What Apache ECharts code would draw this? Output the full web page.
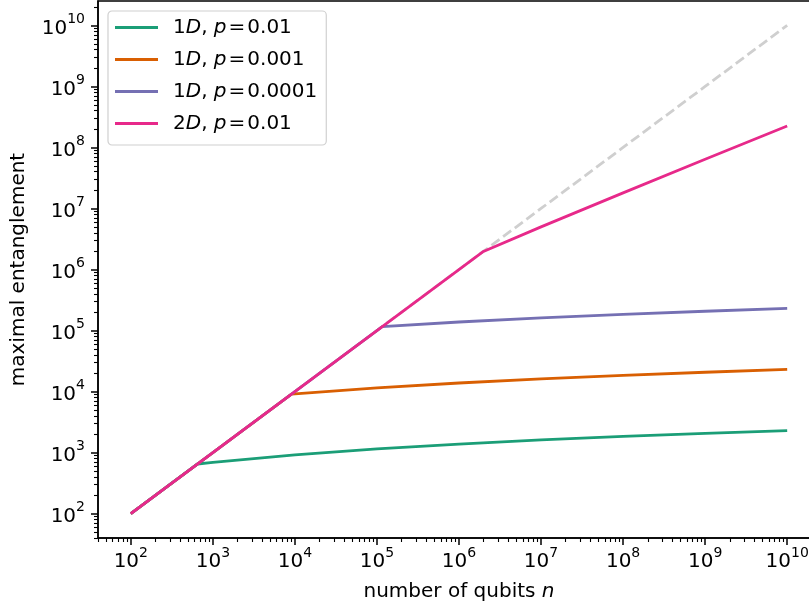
<!DOCTYPE html>
<html>
<head>
<meta charset="utf-8">
<script src="https://cdn.jsdelivr.net/npm/echarts@6/dist/echarts.min.js"></script>
<style>
  html, body { margin: 0; padding: 0; background: #fff; }
  #chart { width: 809px; height: 606px; }
</style>
</head>
<body>
<div id="chart"></div>
<script>
    // values (n, entanglement)
    const refN = [1e2, 1e3, 1e4, 1e5, 1e6, 1e7, 1e8, 1e9, 1e10];
    const refE = [1e2, 1e3, 1e4, 1e5, 1e6, 1e7, 1e8, 1e9, 1e10];

    const greenN = [1e2, 650, 1e3, 1e4, 1e5, 1e6, 1e7, 1e8, 1e9, 1e10];
    const greenE = [1e2, 650, 690, 920, 1150, 1380, 1610, 1840, 2070, 2290];

    const orangeN = [1e2, 9100, 1e5, 1e6, 1e7, 1e8, 1e9, 1e10];
    const orangeE = [1e2, 9100, 11500, 13800, 16100, 18400, 20700, 23000];

    const purpleN = [1e2, 1.16e5, 1e6, 1e7, 1e8, 1e9, 1e10];
    const purpleE = [1e2, 1.16e5, 1.38e5, 1.61e5, 1.84e5, 2.07e5, 2.3e5];

    const pinkN = [1e2, 1.95e6, 1e7, 1e8, 1e9, 1e10];
    const pinkE = [1e2, 1.95e6, 5.0e6, 1.8e7, 6.4e7, 2.25e8];

    const seriesNames = ['1D, p = 0.01', '1D, p = 0.001', '1D, p = 0.0001', '2D, p = 0.01'];
    const legendRich = {
        '1D, p = 0.01': '1{i|D}, {i|p}{e|=}0.01',
        '1D, p = 0.001': '1{i|D}, {i|p}{e|=}0.001',
        '1D, p = 0.0001': '1{i|D}, {i|p}{e|=}0.0001',
        '2D, p = 0.01': '2{i|D}, {i|p}{e|=}0.01'
    };
    const colors = ['#1b9e77', '#d95f02', '#7570b3', '#e7298a'];

    // decade tick labels (exponents) and minor ticks at 2..9 x 10^k
    const majorExp = [2, 3, 4, 5, 6, 7, 8, 9, 10];
    const minorMult = [2, 3, 4, 5, 6, 7, 8, 9];
    const minorTicks = [];
    for (let k = 1; k <= 10; k++) {
        minorMult.forEach(function (m) {
            let v = k + Math.log10(m);
            if (v > 1.6 && v < 10.4) minorTicks.push(v);
        });
    }

    const FONT = 'DejaVu Sans';
    const FS = 20;
    const axMin = 1.6, axMax = 10.4;

    function toLog(xs, ys) {
        return xs.map(function (x, i) {
            return [Math.log10(x), Math.log10(ys[i])];
        });
    }

    const supRich = {
        b: {fontFamily: FONT, fontSize: FS, color: '#000', lineHeight: 26, verticalAlign: 'bottom'},
        s: {fontFamily: FONT, fontSize: 14, color: '#000', lineHeight: 26, verticalAlign: 'top'}
    };

    function powLabel(v) {
        return '{b|10}{s|' + Math.round(v) + '}';
    }

    function mainAxis(pos, isX) {
        let ax = {
            type: 'value',
            position: pos,
            min: axMin,
            max: axMax,
            axisLine: {show: true, onZero: false, lineStyle: {color: '#000', width: 1.5}},
            axisTick: {show: true, length: 7, lineStyle: {color: '#000', width: 1.5}, customValues: majorExp},
            axisLabel: {
                show: true,
                customValues: majorExp,
                margin: isX ? 8 : 13,
                formatter: powLabel,
                rich: supRich
            },
            splitLine: {show: false},
            nameLocation: 'middle',
            nameTextStyle: {
                fontFamily: FONT, fontSize: FS, color: '#000',
                rich: {i: {fontFamily: FONT, fontSize: FS, fontStyle: 'italic', color: '#000'}}
            }
        };
        return ax;
    }

    function minorAxis(pos) {
        return {
            type: 'value',
            position: pos,
            min: axMin,
            max: axMax,
            axisLine: {show: false, onZero: false},
            axisTick: {show: true, length: 4, lineStyle: {color: '#000', width: 1.1}, customValues: minorTicks},
            axisLabel: {show: false},
            splitLine: {show: false}
        };
    }

    let xMain = mainAxis('bottom', true);
    xMain.name = 'number of qubits {i|n}';
    xMain.nameGap = 44;
    let yMain = mainAxis('left', false);
    yMain.name = 'maximal entanglement';
    yMain.nameGap = 69;

    const lineData = [
        toLog(greenN, greenE),
        toLog(orangeN, orangeE),
        toLog(purpleN, purpleE),
        toLog(pinkN, pinkE)
    ];

    let series = [{
        type: 'line',
        name: 'reference',
        data: toLog(refN, refE),
        showSymbol: false,
        symbol: 'none',
        silent: true,
        lineStyle: {color: '#cfcfcf', width: 2.8, type: [10, 4.5]},
        z: 1
    }];
    seriesNames.forEach(function (name, i) {
        series.push({
            type: 'line',
            name: name,
            data: lineData[i],
            symbol: 'none',
            color: colors[i],
            lineStyle: {color: colors[i], width: 2.8},
            z: 2 + i
        });
    });

    let myChart = echarts.init(document.getElementById('chart'));
    myChart.setOption({
        animation: false,
        textStyle: {fontFamily: FONT},
        grid: {
            left: 98,
            top: 1,
            width: 722,
            bottom: 68,
            outerBoundsMode: 'none',
            containLabel: false,
            show: true,
            borderColor: '#000',
            borderWidth: 1.5,
            backgroundColor: 'transparent'
        },
        legend: {
            data: seriesNames,
            orient: 'vertical',
            left: 108,
            top: 11,
            icon: 'rect',
            itemWidth: 43,
            itemHeight: 3,
            itemGap: 9,
            padding: [5, 9, 10, 7],
            borderColor: '#d0d0d0',
            borderWidth: 1.2,
            borderRadius: 4,
            backgroundColor: 'rgba(255,255,255,0.8)',
            formatter: function (name) {
                return legendRich[name];
            },
            textStyle: {
                fontFamily: FONT,
                fontSize: FS,
                color: '#000',
                lineHeight: 23,
                padding: [0, 0, 0, 10],
                rich: {
                    i: {fontFamily: FONT, fontSize: FS, fontStyle: 'italic', color: '#000', lineHeight: 23},
                    e: {fontFamily: FONT, fontSize: FS, color: '#000', lineHeight: 23, padding: [0, 2, 0, 2]}
                }
            }
        },
        xAxis: [xMain, minorAxis('bottom')],
        yAxis: [yMain, minorAxis('left')],
        series: series
    });
</script>
</body>
</html>
